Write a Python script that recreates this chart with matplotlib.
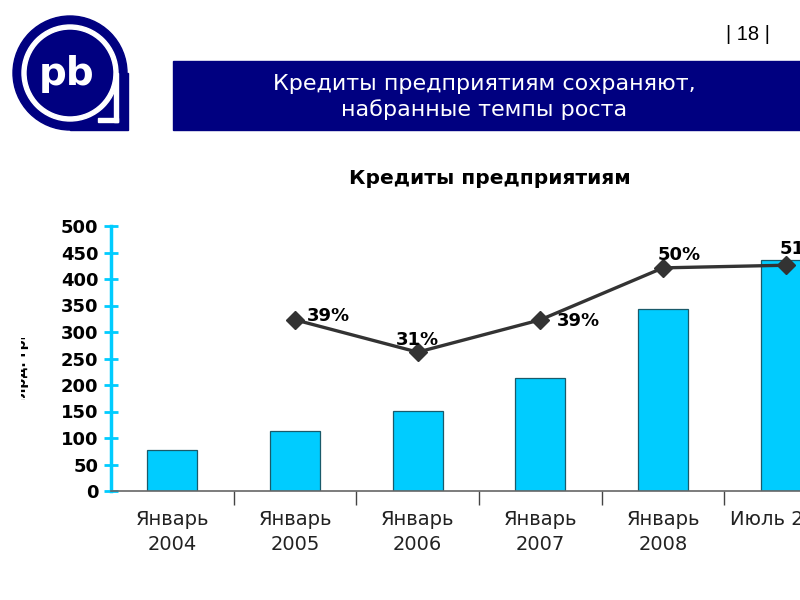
import matplotlib
matplotlib.use("Agg")
import matplotlib.pyplot as plt
from matplotlib.patches import Rectangle, Circle, Wedge

categories = ["Январь\n2004", "Январь\n2005", "Январь\n2006", "Январь\n2007", "Январь\n2008", "Июль 2008"]
loans = [77, 113, 151, 213, 343, 436]
growth_pos = [None, 323, 262, 323, 421, 426]
growth_labels = [None, "39%", "31%", "39%", "50%", "51%"]
yticks = [0, 50, 100, 150, 200, 250, 300, 350, 400, 450, 500]

NAVY = "#000080"
CYAN = "#00CCFF"

fig = plt.figure(figsize=(8, 6), dpi=100)

# background decoration axes in pixel coordinates
bg = fig.add_axes([0, 0, 1, 1])
bg.set_xlim(0, 800)
bg.set_ylim(600, 0)
bg.axis("off")

# logo
bg.add_patch(Circle((70, 73), 57, color=NAVY))
bg.add_patch(Rectangle((70, 73), 58, 57, color=NAVY))
bg.add_patch(Wedge((70, 73), 48, 0, 360, width=4, color="white"))
bg.add_patch(Rectangle((114, 73), 4, 49, color="white"))
bg.add_patch(Rectangle((98, 118), 20, 4, color="white"))
bg.text(67, 74, "pb", color="white", fontsize=28, fontweight="bold",
        ha="center", va="center", family="DejaVu Sans")

# banner
bg.add_patch(Rectangle((173, 61), 627, 69, color=NAVY))
bg.text(484, 97, "Кредиты предприятиям сохраняют,\nнабранные темпы роста",
        color="white", fontsize=16, ha="center", va="center", linespacing=1.3,
        family="DejaVu Sans")
bg.text(748, 35, "| 18 |", fontsize=14.5, ha="center", va="center", family="Liberation Sans")

# chart title
bg.text(490, 178, "Кредиты предприятиям", fontsize=14.5, fontweight="bold",
        ha="center", va="center", family="DejaVu Sans")

# partially cropped y label
lab_ax = fig.add_axes([21 / 800, 1 - 400 / 600, 10 / 800, 62 / 600])
lab_ax.axis("off")
lab_ax.set_xlim(0, 1)
lab_ax.set_ylim(0, 1)
lab_ax.text(0.1, 0.5, "млрд. грн", rotation=90, fontsize=10, fontweight="bold",
            ha="center", va="center", clip_on=True)

# main chart
ax = fig.add_axes([111 / 800, 1 - 491 / 600, 736 / 800, 265 / 600])
ax.patch.set_alpha(0)
x = list(range(len(categories)))
ax.bar(x, loans, width=0.41, color=CYAN, edgecolor="#1a5a6a", linewidth=0.9, zorder=2)

lx = [i for i, v in zip(x, growth_pos) if v is not None]
ly = [v for v in growth_pos if v is not None]
ax.plot(lx, ly, color="#333333", linewidth=2.4, marker="D", markersize=9, zorder=3)

offsets = {1: (0.27, 8), 2: (0, 22), 3: (0.31, -3),
           4: (0.13, 24), 5: (0.13, 30)}
for i, (v, lab) in enumerate(zip(growth_pos, growth_labels)):
    if v is None:
        continue
    dx, dy = offsets[i]
    ax.text(i + dx, v + dy, lab, fontsize=13, fontweight="bold", ha="center", va="center", zorder=4)

ax.set_xlim(-0.5, 5.5)
ax.set_ylim(0, 500)
ax.set_yticks(yticks)
ax.set_yticklabels([str(t) for t in yticks], fontsize=13, fontweight="bold")
ax.tick_params(axis="y", colors=CYAN, direction="inout", length=10, width=2, labelcolor="black", pad=4)

ax.set_xticks(x)
ax.set_xticklabels(categories, fontsize=14, color="#222222", linespacing=1.4)
ax.set_xticks([i + 0.5 for i in x[:-1]], minor=True)
ax.tick_params(axis="x", which="major", length=0, pad=14)
ax.tick_params(axis="x", which="minor", length=10, width=1, color="#444444", direction="out")

for s in ["top", "right"]:
    ax.spines[s].set_visible(False)
ax.spines["left"].set_color(CYAN)
ax.spines["left"].set_linewidth(2.5)
ax.spines["bottom"].set_color("#666666")
ax.spines["bottom"].set_linewidth(1.2)

fig.savefig("out.png", dpi=100)
